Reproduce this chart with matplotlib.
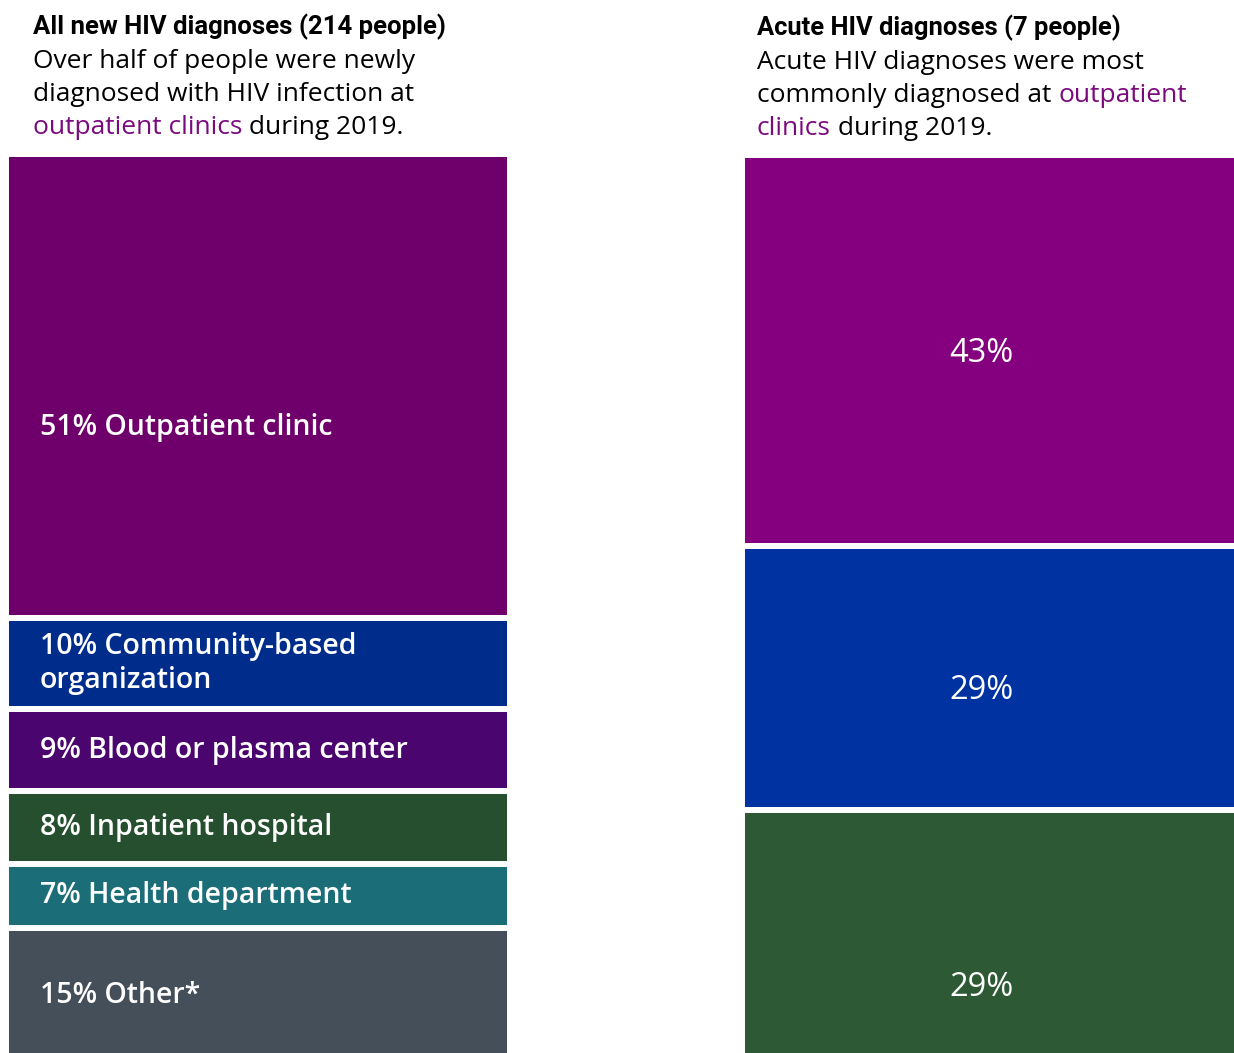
import matplotlib
matplotlib.use("Agg")
import matplotlib.pyplot as plt

# all new diagnoses, by facility type
all_labels = ["Outpatient clinic", "Community-based\norganization", "Blood or plasma center",
              "Inpatient hospital", "Health department", "Other*"]
all_pcts = [51, 10, 9, 8, 7, 15]
all_colors = ["#6f006b", "#002d8c", "#4a056e", "#254f2e", "#1b6e77", "#454f5a"]

# acute diagnoses
acute_pcts = [43, 29, 29]
acute_colors = ["#84007e", "#0033a1", "#2d5a34"]

W, H = 1234, 1053
fig = plt.figure(figsize=(W / 100, H / 100), dpi=100)
r = fig.canvas.get_renderer()

TITLE_FONT = ["Roboto", "DejaVu Sans"]
BODY_FONT = ["Open Sans", "DejaVu Sans"]
ACCENT = "#7b0a7f"
PX = 9.1  # pixels per percentage point


def px_axes(x0, x1, top, height):
    return fig.add_axes([x0 / W, 1 - (top + height) / H, (x1 - x0) / W, height / H])


def stack(ax, pcts, colors, total):
    bottom = 0
    for p, c in zip(pcts, colors):
        ax.bar(0, p, bottom=bottom, width=1, color=c, edgecolor="white", linewidth=4.3)
        bottom += p
    ax.set_xlim(-0.5, 0.5)
    ax.set_ylim(total, 0)
    ax.axis("off")


def rich_line(x, y, parts, size):
    for txt, col in parts:
        t = fig.text(x / W, 1 - y / H, txt, color=col, fontsize=size, family=BODY_FONT, va="baseline")
        x += t.get_window_extent(renderer=r).width


def title(x, y, txt, width):
    # bold heading squeezed to the given pixel width
    t = fig.text(x / W, 1 - y / H, txt, fontsize=20, family=TITLE_FONT, weight="bold", va="baseline")
    t.set_fontsize(20 * width / t.get_window_extent(renderer=r).width)


# left column
axl = px_axes(6, 510, 154, 100 * PX)
stack(axl, all_pcts, all_colors, 100)
shift = [4.5, 0, 0, 0, 0, 0]
bottom = 0
for p, lab, s in zip(all_pcts, all_labels, shift):
    axl.text(0.0675, bottom + p / 2 + s, f"{p}% {lab}", transform=axl.get_yaxis_transform(),
             color="white", fontsize=20.5, family=BODY_FONT, weight="semibold",
             va="center", ha="left", linespacing=1.25)
    bottom += p

# right column
axr = px_axes(742, 1240, 155, sum(acute_pcts) * PX)
stack(axr, acute_pcts, acute_colors, sum(acute_pcts))
shift = [0.3, 1.4, 5]
bottom = 0
for p, s in zip(acute_pcts, shift):
    axr.text(0.48, bottom + p / 2 + s, f"{p}%", transform=axr.get_yaxis_transform(),
             color="white", fontsize=23.5, family=BODY_FONT, va="center", ha="center")
    bottom += p

# headings
title(33, 34, "All new HIV diagnoses (214 people)", 412)
rich_line(33, 68, [("Over half of people were newly", "black")], 19)
rich_line(33, 101, [("diagnosed with HIV infection at", "black")], 19)
rich_line(33, 134, [("outpatient clinics", ACCENT), (" during 2019.", "black")], 19)

title(757, 35, "Acute HIV diagnoses (7 people)", 363)
rich_line(757, 69, [("Acute HIV diagnoses were most", "black")], 19)
rich_line(757, 102, [("commonly diagnosed at ", "black"), ("outpatient", ACCENT)], 19)
rich_line(757, 135, [("clinics", ACCENT), (" during 2019.", "black")], 19)

fig.savefig("out.png", dpi=100)
